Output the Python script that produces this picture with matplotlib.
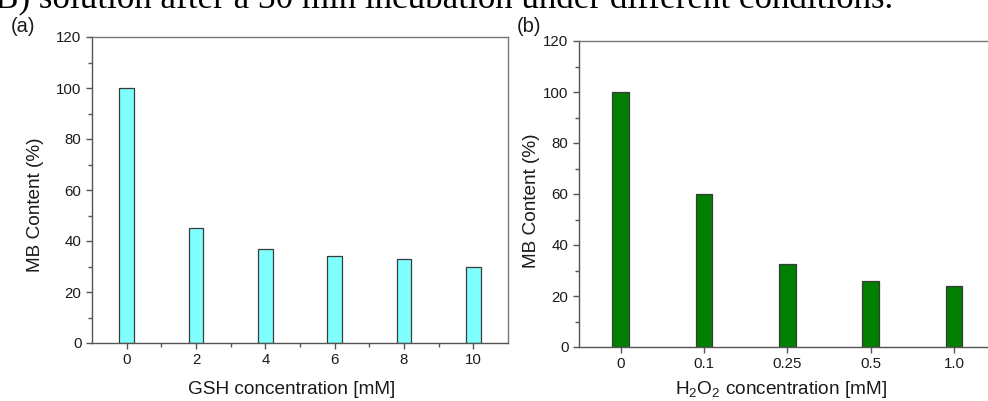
import matplotlib
matplotlib.use("Agg")
import matplotlib.pyplot as plt
from matplotlib.ticker import MultipleLocator, FixedLocator

# ---- data ----
gsh_conc = [0, 2, 4, 6, 8, 10]
gsh_content = [100, 45, 37, 34, 33, 30]
h2o2_labels = ['0', '0.1', '0.25', '0.5', '1.0']
h2o2_content = [100, 60, 32.5, 26, 24]
caption = "MB) solution after a 30 min incubation under different conditions."

plt.rcParams['font.family'] = ['Liberation Sans', 'DejaVu Sans']
plt.rcParams['mathtext.fontset'] = 'custom'
plt.rcParams['mathtext.rm'] = 'Liberation Sans'

W, H = 988, 401
fig = plt.figure(figsize=(W / 100, H / 100), dpi=100)

def px(x, y):
    return x / W, 1 - y / H

spine_c = '#555555'
tick_c = '#1a1a1a'
edge_c = '#3a3a3a'

def style(ax):
    for s in ax.spines.values():
        s.set_color(spine_c)
        s.set_linewidth(1.0)
    for s in ('top', 'right'):
        ax.spines[s].set_color('#777777')
    ax.tick_params(which='both', direction='out', color=spine_c, labelcolor=tick_c,
                   labelsize=10.8, width=1.0)
    ax.tick_params(which='major', length=4.5, pad=3)
    ax.tick_params(which='minor', length=3)
    ax.tick_params(axis='both', which='both', top=False, right=False)
    ax.set_ylim(0, 120)
    ax.yaxis.set_major_locator(MultipleLocator(20))
    ax.yaxis.set_minor_locator(MultipleLocator(10))

# ---- panel (a) ----
axa = fig.add_axes([92 / W, 1 - 343 / H, 416 / W, 306 / H])
axa.bar(gsh_conc, gsh_content, width=0.42, color='#80FFFF', edgecolor=edge_c, linewidth=0.9)
axa.set_xlim(-1, 11)
axa.xaxis.set_major_locator(FixedLocator(gsh_conc))
axa.xaxis.set_minor_locator(FixedLocator([1, 3, 5, 7, 9]))
style(axa)

# ---- panel (b) ----
axb = fig.add_axes([579 / W, 1 - 347 / H, 416.7 / W, 306 / H])
pos = list(range(len(h2o2_labels)))
axb.bar(pos, h2o2_content, width=0.2, color='#007F00', edgecolor=edge_c, linewidth=0.9)
axb.set_xlim(-0.5, 4.5)
axb.set_xticks(pos)
axb.set_xticklabels(h2o2_labels)
style(axb)
axb.xaxis.set_minor_locator(FixedLocator([]))

# ---- labels ----
fs_lab = 13.7
fig.text(*px(35.5, 205), 'MB Content (%)', rotation=90, ha='center', va='center',
         fontsize=fs_lab, color=tick_c)
fig.text(*px(532, 201), 'MB Content (%)', rotation=90, ha='center', va='center',
         fontsize=fs_lab, color=tick_c)
fig.text(*px(291.5, 394), 'GSH concentration [mM]', ha='center', va='baseline',
         fontsize=fs_lab, color=tick_c)
fig.text(*px(781.5, 394), r'H$_\mathregular{2}$O$_\mathregular{2}$ concentration [mM]',
         ha='center', va='baseline', fontsize=fs_lab, color=tick_c)

fig.text(*px(22.5, 27), '(a)', ha='center', va='center', fontsize=14.5, color=tick_c)
fig.text(*px(529, 26), '(b)', ha='center', va='center', fontsize=14.5, color=tick_c)

fig.text(*px(893, 8), caption, ha='right', va='baseline', fontsize=25.2,
         family='Liberation Serif', color='black')

fig.savefig('out.png', dpi=100)
